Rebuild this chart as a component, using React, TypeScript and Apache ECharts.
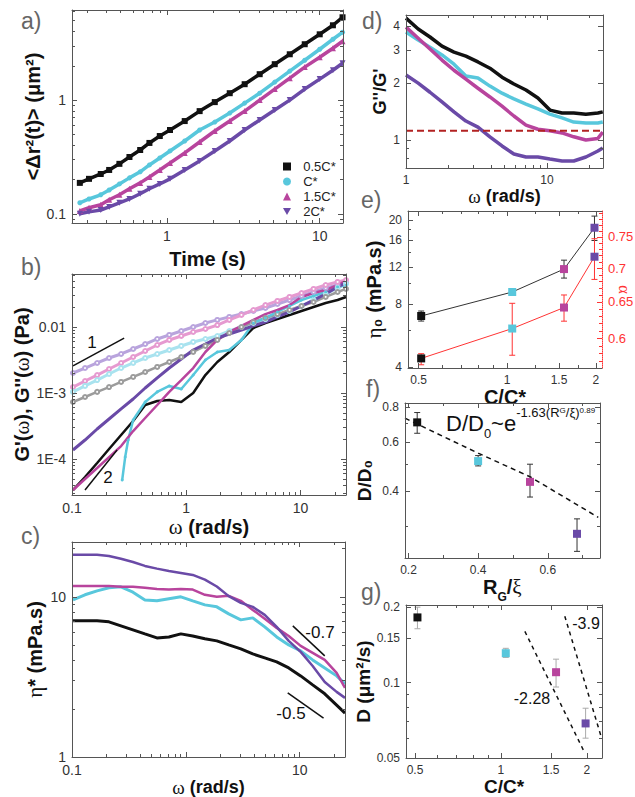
import React, { useEffect, useRef } from 'react';
import * as echarts from 'echarts';

const FONT = '"Liberation Sans", Arial, Helvetica, sans-serif';
const SERIF = '"Liberation Serif", "DejaVu Serif", serif';

const C_BLACK = '#111111';
const C_CYAN = '#58c7dc';
const C_MAG = '#b8449d';
const C_PUR = '#6a4aa7';
const C_PUR_L = '#b9a4dd';
const C_MAG_L = '#e69ad0';
const C_CYAN_L = '#a9e3ef';
const C_GREY_L = '#9c9c9c';
const C_RED = '#ff3333';

// ---------- panel a : MSD ----------
const aTime = [0.27, 0.31, 0.37, 0.42, 0.49, 0.57, 0.67, 0.77, 0.9, 1.05, 1.31, 1.64, 2.06, 2.58, 3.23, 4.05, 5.08, 6.37, 7.98, 10, 12.2, 14.1];
const aBlack = [0.187, 0.203, 0.224, 0.243, 0.275, 0.316, 0.364, 0.42, 0.483, 0.546, 0.654, 0.8, 0.96, 1.15, 1.38, 1.69, 2.07, 2.53, 3.1, 3.79, 4.55, 5.35];
const aCyan = [0.125, 0.135, 0.147, 0.162, 0.183, 0.207, 0.234, 0.269, 0.31, 0.357, 0.437, 0.546, 0.641, 0.769, 0.941, 1.15, 1.44, 1.8, 2.24, 2.8, 3.43, 3.95];
const aMagenta = [0.106, 0.113, 0.12, 0.133, 0.147, 0.166, 0.187, 0.211, 0.243, 0.28, 0.343, 0.428, 0.535, 0.654, 0.8, 1.0, 1.25, 1.56, 1.95, 2.38, 2.86, 3.29];
const aPurple = [0.1, 0.104, 0.108, 0.115, 0.125, 0.135, 0.15, 0.166, 0.183, 0.203, 0.243, 0.292, 0.357, 0.437, 0.546, 0.668, 0.817, 1.0, 1.25, 1.53, 1.83, 2.11];
const aNames = ['0.5C*', 'C*', '1.5C*', '2C*'];

// ---------- panel b : G', G'' ----------
const bOmega = [0.102, 0.13, 0.166, 0.211, 0.269, 0.343, 0.437, 0.557, 0.71, 0.904, 1.15, 1.47, 1.87, 2.38, 3.04, 3.87, 4.93, 6.28, 8.01, 10.2, 13.0, 16.6, 21.1, 25];
const bG2Purple = [2.01e-3, 2.39e-3, 2.85e-3, 3.39e-3, 3.9e-3, 4.64e-3, 5.52e-3, 6.58e-3, 7.57e-3, 8.7e-3, 0.01, 0.0115, 0.0128, 0.0142, 0.0157, 0.0175, 0.0194, 0.0223, 0.0256, 0.0295, 0.0339, 0.039, 0.0433, 0.0464];
const bG2Magenta = [1.23e-3, 1.52e-3, 1.87e-3, 2.31e-3, 2.85e-3, 3.51e-3, 4.33e-3, 5.34e-3, 6.36e-3, 7.31e-3, 8.4e-3, 9.33e-3, 0.0107, 0.0128, 0.0152, 0.0181, 0.0215, 0.0248, 0.0285, 0.0327, 0.0377, 0.0433, 0.0481, 0.0515];
const bG2Cyan = [1.04e-3, 1.28e-3, 1.57e-3, 1.94e-3, 2.39e-3, 2.85e-3, 3.39e-3, 3.9e-3, 4.48e-3, 5.16e-3, 5.93e-3, 6.58e-3, 7.31e-3, 8.7e-3, 0.01, 0.0115, 0.0132, 0.0152, 0.0175, 0.0208, 0.0256, 0.0316, 0.039, 0.0449];
const bG2Black = [7.3e-4, 8.7e-4, 1.04e-3, 1.23e-3, 1.47e-3, 1.75e-3, 2.08e-3, 2.48e-3, 2.95e-3, 3.51e-3, 4.18e-3, 5.16e-3, 6.36e-3, 8.11e-3, 0.01, 0.0119, 0.0137, 0.0157, 0.0181, 0.0208, 0.0239, 0.0285, 0.0339, 0.0377];
const bG1Purple = [1.37e-4, 1.94e-4, 2.85e-4, 4.04e-4, 5.73e-4, 8.11e-4, 1.19e-3, 1.69e-3, 2.39e-3, 3.28e-3, 4.48e-3, 5.52e-3, 6.81e-3, 7.83e-3, 9.01e-3, 0.0104, 0.0119, 0.0142, 0.0169, 0.0208, 0.0256, 0.0316, 0.0404, 0.0464];
const bG1Magenta = [3.39e-5, 4.98e-5, 7.31e-5, 1.07e-4, 1.57e-4, 2.65e-4, 4.18e-4, 6.58e-4, 1.04e-3, 1.57e-3, 2.39e-3, 4.18e-3, 6.36e-3, 8.4e-3, 0.0104, 0.0128, 0.0157, 0.0181, 0.0215, 0.0285, 0.0327, 0.0363, 0.0433, 0.0498];
const bG1Black = [3.39e-5, 5.33e-5, 8.69e-5, 1.42e-4, 2.31e-4, 3.77e-4, 6.58e-4, 7.57e-4, 7.83e-4, 7.3e-4, 1e-3, 1.87e-3, 2.95e-3, 4.18e-3, 6.36e-3, 9.66e-3, 0.0115, 0.0132, 0.0152, 0.0175, 0.0201, 0.0231, 0.0256, 0.0285];
const bOmegaCyan = [0.275, 0.292, 0.31, 0.343, 0.437, 0.557, 0.71, 0.904, 1.15, 1.47, 1.87, 2.38, 3.04, 3.87, 4.93, 6.28, 8.01, 10.2, 13.0, 16.6, 21.1, 25];
const bG1Cyan = [4.81e-5, 1.07e-4, 1.94e-4, 3.9e-4, 7.3e-4, 1.04e-3, 1.28e-3, 1.15e-3, 1.87e-3, 3.16e-3, 4.18e-3, 4.48e-3, 6.36e-3, 0.0115, 0.0137, 0.0169, 0.0208, 0.0256, 0.0295, 0.0339, 0.0404, 0.0433];
const bSlope1X = [0.102, 0.286];
const bSlope1Y = [2.57e-3, 6.8e-3];
const bSlope2X = [0.13, 0.248];
const bSlope2Y = [3.4e-5, 1.37e-4];

// ---------- panel c : eta* ----------
const cOmega = [0.102, 0.13, 0.166, 0.211, 0.269, 0.343, 0.437, 0.557, 0.71, 0.904, 1.15, 1.47, 1.87, 2.38, 3.04, 3.87, 4.93, 6.28, 8.01, 10.2, 13.0, 16.6, 21.1, 25];
const cPurple = [18.3, 18.3, 18.3, 18.0, 17.3, 16.5, 15.6, 15.0, 14.5, 14.1, 13.7, 12.8, 11.6, 10.1, 9.17, 8.66, 7.72, 6.49, 5.31, 4.53, 3.7, 2.94, 2.55, 2.34];
const cMagenta = [11.7, 11.7, 11.7, 11.7, 11.55, 11.55, 11.4, 11.2, 11.1, 11.2, 11.1, 10.3, 10.0, 10.15, 9.44, 8.29, 7.29, 6.4, 5.7, 4.94, 4.47, 4.04, 3.35, 2.7];
const cCyan = [9.57, 10.3, 10.9, 11.4, 11.55, 10.7, 9.57, 9.44, 9.72, 10.0, 9.44, 8.91, 8.66, 7.83, 7.18, 7.39, 6.49, 5.62, 5.01, 4.6, 4.04, 3.6, 3.21, 2.86];
const cBlack = [7.08, 7.08, 7.08, 6.98, 6.59, 6.22, 5.87, 5.54, 5.62, 5.87, 5.7, 5.47, 5.31, 5.01, 4.73, 4.4, 4.16, 3.93, 3.6, 3.21, 2.82, 2.48, 2.11, 1.88];
const cSlope07X = [8.7, 16.6];
const cSlope07Y = [6.59, 4.28];
const cSlope05X = [7.85, 16.2];
const cSlope05Y = [2.51, 1.75];

// ---------- panel d : G''/G' ----------
const dOmega = [1, 1.22, 1.48, 1.8, 2.19, 2.66, 3.24, 3.94, 4.8, 5.83, 7.1, 8.63, 10.5, 12.8, 15.5, 18.9, 23.0, 24.9];
const dBlack = [4.42, 3.87, 3.51, 3.14, 2.92, 2.78, 2.59, 2.4, 2.15, 1.98, 1.84, 1.67, 1.44, 1.39, 1.39, 1.37, 1.39, 1.41];
const dCyan = [3.73, 3.38, 3.1, 2.82, 2.52, 2.18, 2.13, 1.93, 1.77, 1.65, 1.55, 1.46, 1.37, 1.31, 1.245, 1.23, 1.23, 1.245];
const dMagenta = [3.96, 3.46, 3.03, 2.65, 2.34, 2.1, 1.88, 1.69, 1.51, 1.34, 1.2, 1.14, 1.12, 1.09, 1.04, 1.0, 1.02, 1.1];
const dPurple = [2.21, 2.0, 1.79, 1.59, 1.41, 1.26, 1.17, 1.04, 0.93, 0.843, 0.813, 0.813, 0.793, 0.774, 0.774, 0.813, 0.875, 0.908];
const dRefX = [1, 25];
const dRefY = [1.12, 1.12];

// ---------- panels e, f, g ----------
const conc = [0.51, 1.04, 1.56, 1.98];
const pointColors = [C_BLACK, C_CYAN, C_MAG, C_PUR];
const eEta0 = [7.0, 9.1, 11.7, 18.4];
const eEta0Lo = [6.62, 8.9, 10.6, 16.0];
const eEta0Hi = [7.39, 9.3, 12.9, 20.9];
const eAlpha = [0.574, 0.613, 0.642, 0.718];
const eAlphaLo = [0.566, 0.578, 0.623, 0.683];
const eAlphaHi = [0.58, 0.648, 0.66, 0.747];

const fRgXi = [0.225, 0.4, 0.549, 0.684];
const fD = [0.707, 0.513, 0.432, 0.281];
const fDLo = [0.646, 0.493, 0.381, 0.243];
const fDHi = [0.767, 0.537, 0.5, 0.318];
const fFitX = [0.19, 0.4, 0.55, 0.745];
const fFitY = [0.732, 0.548, 0.45, 0.322];

const gD = [0.182, 0.131, 0.11, 0.0687];
const gDLo = [0.164, 0.126, 0.096, 0.06];
const gDHi = [0.2, 0.137, 0.124, 0.079];
const g228X = [1.213, 1.967];
const g228Y = [0.16, 0.0524];
const g39X = [1.674, 2.255];
const g39Y = [0.184, 0.0598];

// ---------- helpers ----------
function zip(xs: number[], ys: number[]) {
  return xs.map((x, i) => [x, ys[i]]);
}

function logMinors(lo: number, hi: number): number[] {
  const out: number[] = [];
  for (let e = -6; e <= 3; e++) {
    for (let k = 2; k <= 9; k++) {
      const v = parseFloat((k * Math.pow(10, e)).toPrecision(6));
      if (v >= lo && v <= hi) out.push(v);
    }
  }
  return out;
}

type Side = {
  type: 'log' | 'value';
  min: number;
  max: number;
  majors: number[];
  minors: number[];
  labels?: number[];
  fmt?: (v: number) => string;
  fontSize?: number;
  color?: string;
  lineColor?: string;
  lineType?: any;
  name?: string;
  nameGap?: number;
  nameTextStyle?: any;
  nameRotate?: number;
  noMove?: boolean;
};

function pushAxis(list: any[], grid: number, position: string, s: Side, primary: boolean): number {
  const base: any = {
    type: s.type,
    min: s.min,
    max: s.max,
    gridIndex: grid,
    position,
    splitLine: { show: false },
    z: 5,
  };
  if (s.type === 'log') base.logBase = 10;
  const lc = s.lineColor || '#555';
  const idx = list.length;
  const main: any = {
    ...base,
    axisLine: { show: true, onZero: false, lineStyle: { color: lc, width: 1, type: s.lineType || 'solid' } },
    axisTick: { show: true, inside: true, length: 5, customValues: s.majors, lineStyle: { color: lc, width: 1 } },
    axisLabel: primary
      ? {
          show: true,
          customValues: s.labels || s.majors,
          formatter: s.fmt || ((v: number) => String(v)),
          fontSize: s.fontSize || 14,
          color: s.color || '#333',
          fontFamily: FONT,
          margin: 6,
        }
      : { show: false },
  };
  if (primary && s.name) {
    main.name = s.name;
    main.nameLocation = 'middle';
    main.nameGap = s.nameGap;
    main.nameTextStyle = s.nameTextStyle;
    if (s.nameRotate !== undefined) main.nameRotate = s.nameRotate;
    if (s.noMove) main.nameMoveOverlap = false;
  }
  list.push(main);
  if (s.minors.length) {
    list.push({
      ...base,
      axisLine: { show: false, onZero: false },
      axisTick: { show: true, inside: true, length: 3, customValues: s.minors, lineStyle: { color: lc, width: 1 } },
      axisLabel: { show: false },
    });
  }
  return idx;
}

function titleStyle(size: number, color = '#111') {
  return {
    fontSize: size,
    fontWeight: 'bold',
    fontFamily: FONT,
    color,
    rich: {
      w: { fontFamily: SERIF, fontWeight: 'normal', fontSize: size + 1, color },
      m: { fontFamily: FONT, fontWeight: 'bold', fontSize: size, lineHeight: size, verticalAlign: 'top', color },
      sub: { fontFamily: FONT, fontWeight: 'bold', fontSize: size * 0.6, lineHeight: size * 0.6, verticalAlign: 'bottom', color },
      xi: { fontFamily: SERIF, fontWeight: 'normal', fontSize: size + 1, lineHeight: size, verticalAlign: 'top', color },
      sp: { fontSize: 1, lineHeight: size + 6 },
    },
  };
}

function errBars(xi: number, yi: number, xs: number[], lo: number[], hi: number[], color: string) {
  return {
    type: 'custom',
    xAxisIndex: xi,
    yAxisIndex: yi,
    z: 2,
    silent: true,
    data: xs.map((x, i) => [x, lo[i], hi[i]]),
    encode: { x: 0, y: [1, 2] },
    renderItem: (_p: any, api: any) => {
      const x = api.value(0);
      const a = api.coord([x, api.value(1)]);
      const b = api.coord([x, api.value(2)]);
      const st = { stroke: color, lineWidth: 1 };
      const cap = 3;
      return {
        type: 'group',
        children: [
          { type: 'line', shape: { x1: a[0], y1: a[1], x2: b[0], y2: b[1] }, style: st },
          { type: 'line', shape: { x1: a[0] - cap, y1: a[1], x2: a[0] + cap, y2: a[1] }, style: st },
          { type: 'line', shape: { x1: b[0] - cap, y1: b[1], x2: b[0] + cap, y2: b[1] }, style: st },
        ],
      };
    },
  };
}

function curve(xi: number, yi: number, xs: number[], ys: number[], color: string, width: number, extra: any = {}) {
  return {
    type: 'line',
    xAxisIndex: xi,
    yAxisIndex: yi,
    data: zip(xs, ys),
    symbol: 'none',
    showSymbol: false,
    lineStyle: { color, width },
    itemStyle: { color },
    z: 3,
    silent: true,
    ...extra,
  };
}

function squares(xi: number, yi: number, xs: number[], ys: number[], lineColor: string | null) {
  return {
    type: 'line',
    xAxisIndex: xi,
    yAxisIndex: yi,
    data: xs.map((x, i) => ({ value: [x, ys[i]], itemStyle: { color: pointColors[i] } })),
    symbol: 'rect',
    symbolSize: 8,
    showSymbol: true,
    lineStyle: lineColor ? { color: lineColor, width: 1 } : { width: 0, opacity: 0 },
    z: 4,
    silent: true,
  };
}

function buildOption() {
  const xAxes: any[] = [];
  const yAxes: any[] = [];
  const grids = [
    { left: 72, top: 10, width: 271, height: 213 },
    { left: 72, top: 274, width: 274, height: 221 },
    { left: 72, top: 542, width: 273, height: 215 },
    { left: 406, top: 15, width: 197, height: 153 },
    { left: 408, top: 211, width: 194, height: 157 },
    { left: 405, top: 403, width: 195, height: 155 },
    { left: 406, top: 605, width: 196, height: 153 },
  ].map((g) => ({ ...g, containLabel: false, outerBoundsMode: 'none' }));

  const box = (grid: number, xs: Side, ys: Side, rightMirror = true) => {
    const xi = pushAxis(xAxes, grid, 'bottom', xs, true);
    pushAxis(xAxes, grid, 'top', { ...xs, name: undefined }, false);
    const yi = pushAxis(yAxes, grid, 'left', ys, true);
    if (rightMirror) pushAxis(yAxes, grid, 'right', { ...ys, name: undefined }, false);
    return [xi, yi];
  };

  const omegaName = '{w|ω} (rad/s)';

  // a
  const [ax, ay] = box(
    0,
    { type: 'log', min: 0.24, max: 14.2, majors: [1, 10], minors: logMinors(0.25, 14), name: 'Time (s)', nameGap: 26, nameTextStyle: titleStyle(20) },
    { type: 'log', min: 0.083, max: 6.2, majors: [0.1, 1], minors: logMinors(0.085, 6.1), name: '<Δr²(t)> (μm²)', nameGap: 26, nameTextStyle: titleStyle(20) }
  );
  // b
  const [bx, by] = box(
    1,
    { type: 'log', min: 0.1, max: 25, majors: [0.1, 1, 10], minors: logMinors(0.11, 24), name: omegaName, nameGap: 21, nameTextStyle: titleStyle(20) },
    {
      type: 'log', min: 2.85e-5, max: 0.0635, majors: [1e-4, 1e-3, 1e-2], minors: logMinors(2.9e-5, 0.063),
      fmt: (v: number) => (v >= 0.005 ? '0.01' : v >= 0.0005 ? '1E-3' : '1E-4'),
      name: "G'({w|ω}), G''({w|ω}) (Pa)", nameGap: 25, nameTextStyle: titleStyle(20),
    }
  );
  // c
  const [cx, cy] = box(
    2,
    { type: 'log', min: 0.1, max: 25, majors: [0.1, 1, 10], labels: [0.1, 10], minors: logMinors(0.11, 24), name: omegaName, nameGap: 19, nameTextStyle: titleStyle(18) },
    { type: 'log', min: 1, max: 22, majors: [1, 10], minors: logMinors(1.1, 21), name: '{w|η}* (mPa.s)', nameGap: 27, nameTextStyle: titleStyle(20) }
  );
  // d
  const [dx, dy] = box(
    3,
    { type: 'log', min: 1, max: 25, majors: [1, 10], minors: logMinors(1.1, 24), fontSize: 12, name: omegaName, nameGap: 16, nameTextStyle: titleStyle(18) },
    { type: 'log', min: 0.711, max: 4.59, majors: [1, 2, 3, 4], minors: [0.8, 0.9], fontSize: 12, name: "G''/G'", nameGap: 15, nameTextStyle: titleStyle(18) }
  );
  // e
  const [ex, ey] = box(
    4,
    { type: 'log', min: 0.46, max: 2.1, majors: [0.5, 1, 1.5, 2], minors: [0.6, 0.7, 0.8, 0.9, 1.25, 1.75], fontSize: 12, name: 'C/C*', nameGap: 14, nameTextStyle: titleStyle(20) },
    { type: 'log', min: 3.96, max: 22.1, majors: [4, 8, 12, 16, 20], minors: [6, 10, 14, 18], fontSize: 12, name: '{w|η}₀ (mPa.s)', nameGap: 17, nameTextStyle: titleStyle(20) },
    false
  );
  const eyR = pushAxis(yAxes, 4, 'right', {
    type: 'log', min: 0.562, max: 0.794, majors: [0.6, 0.65, 0.7, 0.75],
    minors: [0.57, 0.58, 0.59, 0.61, 0.62, 0.63, 0.64, 0.66, 0.67, 0.68, 0.69, 0.71, 0.72, 0.73, 0.74, 0.76, 0.77, 0.78, 0.79],
    fontSize: 13, color: C_RED, lineColor: C_RED, lineType: 'dotted',
    name: 'α', nameGap: 14, nameRotate: -90, noMove: true, nameTextStyle: { fontSize: 17, color: C_RED, fontFamily: SERIF },
  }, true);
  // f
  const [fx, fy] = box(
    5,
    { type: 'value', min: 0.19, max: 0.75, majors: [0.2, 0.4, 0.6], minors: [0.3, 0.5, 0.7], fontSize: 12, name: '{m|R}{sub|G}{m|/}{xi|ξ}{sp| }', nameGap: 17, nameTextStyle: titleStyle(20) },
    { type: 'log', min: 0.23, max: 0.83, majors: [0.4, 0.6, 0.8], minors: [0.3, 0.5, 0.7], fontSize: 12, name: 'D/D₀', nameGap: 31, nameTextStyle: titleStyle(19) }
  );
  // g
  const [gx, gy] = box(
    6,
    { type: 'log', min: 0.465, max: 2.26, majors: [0.5, 1, 1.5, 2], minors: [0.6, 0.7, 0.8, 0.9], fontSize: 12, name: 'C/C*', nameGap: 15, nameTextStyle: titleStyle(19) },
    { type: 'log', min: 0.05, max: 0.204, majors: [0.05, 0.1, 0.15, 0.2], minors: [0.06, 0.07, 0.08, 0.09], fontSize: 12, name: 'D (μm²/s)', nameGap: 32, nameTextStyle: titleStyle(19) }
  );

  const series: any[] = [];

  // a
  const aData = [aBlack, aCyan, aMagenta, aPurple];
  const aCols = [C_BLACK, C_CYAN, C_MAG, C_PUR];
  const aSyms = ['rect', 'circle', 'triangle', 'triangle'];
  const aRot = [0, 0, 0, 180];
  aData.forEach((ys, i) => {
    series.push({
      type: 'line',
      name: aNames[i],
      xAxisIndex: ax,
      yAxisIndex: ay,
      data: zip(aTime, ys),
      symbol: aSyms[i],
      symbolSize: i === 1 ? 5 : 6,
      symbolRotate: aRot[i],
      showSymbol: true,
      itemStyle: { color: aCols[i] },
      lineStyle: { color: aCols[i], width: 3.5 },
      z: 3,
      silent: true,
    });
  });

  // b
  const ring = { symbol: 'emptyCircle', symbolSize: 4, showSymbol: true };
  series.push(curve(bx, by, bOmega, bG2Purple, C_PUR_L, 3, ring));
  series.push(curve(bx, by, bOmega, bG2Magenta, C_MAG_L, 3, ring));
  series.push(curve(bx, by, bOmega, bG2Cyan, C_CYAN_L, 3, ring));
  series.push(curve(bx, by, bOmega, bG2Black, C_GREY_L, 2.5, ring));
  series.push(curve(bx, by, bOmega, bG1Black, C_BLACK, 2.5));
  series.push(curve(bx, by, bOmegaCyan, bG1Cyan, C_CYAN, 2.5, { symbol: 'circle', symbolSize: 3, showSymbol: true }));
  series.push(curve(bx, by, bOmega, bG1Magenta, C_MAG, 2.5));
  series.push(curve(bx, by, bOmega, bG1Purple, C_PUR, 3));
  series.push(curve(bx, by, bSlope1X, bSlope1Y, '#111', 1.5));
  series.push(curve(bx, by, bSlope2X, bSlope2Y, '#111', 1.5));

  // c
  series.push(curve(cx, cy, cOmega, cBlack, C_BLACK, 3));
  series.push(curve(cx, cy, cOmega, cCyan, C_CYAN, 3));
  series.push(curve(cx, cy, cOmega, cMagenta, C_MAG, 2.5));
  series.push(curve(cx, cy, cOmega, cPurple, C_PUR, 2.5));
  series.push(curve(cx, cy, cSlope07X, cSlope07Y, '#111', 1.5));
  series.push(curve(cx, cy, cSlope05X, cSlope05Y, '#111', 1.5));

  // d
  series.push(curve(dx, dy, dOmega, dBlack, C_BLACK, 3.5));
  series.push(curve(dx, dy, dOmega, dCyan, C_CYAN, 3.5));
  series.push(curve(dx, dy, dOmega, dMagenta, C_MAG, 3.5));
  series.push(curve(dx, dy, dOmega, dPurple, C_PUR, 3.5));
  series.push(curve(dx, dy, dRefX, dRefY, '#b22222', 2, { lineStyle: { color: '#b22222', width: 2, type: [7, 4] } }));

  // e
  series.push(errBars(ex, ey, conc, eEta0Lo, eEta0Hi, '#333'));
  series.push(errBars(ex, eyR, conc, eAlphaLo, eAlphaHi, C_RED));
  series.push(squares(ex, ey, conc, eEta0, '#333'));
  series.push(squares(ex, eyR, conc, eAlpha, C_RED));

  // f
  series.push(curve(fx, fy, fFitX, fFitY, '#111', 1.5, { lineStyle: { color: '#111', width: 1.5, type: [5, 4] } }));
  series.push(errBars(fx, fy, fRgXi, fDLo, fDHi, '#333'));
  series.push(squares(fx, fy, fRgXi, fD, null));

  // g
  series.push(curve(gx, gy, g228X, g228Y, '#111', 1.5, { lineStyle: { color: '#111', width: 1.5, type: [4, 4] } }));
  series.push(curve(gx, gy, g39X, g39Y, '#111', 1.5, { lineStyle: { color: '#111', width: 1.5, type: [4, 4] } }));
  series.push(errBars(gx, gy, conc, gDLo, gDHi, '#aaa'));
  series.push(squares(gx, gy, conc, gD, null));

  const letter = (t: string, x: number, y: number) => ({
    type: 'text', x, y, silent: true,
    style: { text: t, fontSize: 23, fill: '#666', fontFamily: FONT },
  });
  const note = (t: string, x: number, y: number, size = 17) => ({
    type: 'text', x, y, silent: true,
    style: { text: t, fontSize: size, fill: '#111', fontFamily: FONT, align: 'center', verticalAlign: 'middle' },
  });

  const graphic = [
    letter('a)', 21, 9),
    letter('b)', 21, 255),
    letter('c)', 21, 524),
    letter('d)', 362, 9),
    letter('e)', 361, 188),
    letter('f)', 366, 377),
    letter('g)', 361, 580),
    note('1', 92, 342),
    note('2', 108, 477),
    note('-0.7', 320, 632),
    note('-0.5', 291, 713),
    note('-2.28', 532, 698, 16),
    note('-3.9', 586, 623, 16),
    {
      type: 'text', x: 446, y: 406, silent: true,
      style: {
        text: '{m|D/D}{s|0}{m|~e}{p|-1.63(R}{ps|G}{p|/ξ)}{pp|0.89}{sp| }',
        fontFamily: FONT,
        fill: '#111',
        rich: {
          m: { fontSize: 22, lineHeight: 22, verticalAlign: 'middle', fontFamily: FONT, fill: '#111' },
          s: { fontSize: 13, lineHeight: 12, verticalAlign: 'bottom', fontFamily: FONT, fill: '#111' },
          p: { fontSize: 13, lineHeight: 18, verticalAlign: 'top', fontFamily: FONT, fill: '#111' },
          ps: { fontSize: 8, lineHeight: 27, verticalAlign: 'top', fontFamily: FONT, fill: '#111' },
          pp: { fontSize: 8, lineHeight: 6, verticalAlign: 'top', fontFamily: FONT, fill: '#111' },
          sp: { fontSize: 1, lineHeight: 34 },
        },
      },
    },
  ];

  return {
    animation: false,
    backgroundColor: '#ffffff',
    textStyle: { fontFamily: FONT },
    grid: grids,
    xAxis: xAxes,
    yAxis: yAxes,
    legend: {
      show: true,
      orient: 'vertical',
      left: 278,
      top: 155,
      itemGap: 2,
      itemWidth: 8,
      itemHeight: 8,
      selectedMode: false,
      formatter: (n: string) => '  ' + n,
      textStyle: { fontSize: 13, fontFamily: FONT, color: '#222' },
      data: [
        { name: '0.5C*', icon: 'rect' },
        { name: 'C*', icon: 'circle' },
        { name: '1.5C*', icon: 'triangle' },
        { name: '2C*', icon: 'path://M0,0L10,0L5,9Z' },
      ],
    },
    graphic,
    series,
  };
}

export default function App() {
  const ref = useRef<HTMLDivElement | null>(null);
  useEffect(() => {
    if (!ref.current) return;
    const chart = echarts.init(ref.current, undefined, { renderer: 'svg' });
    chart.setOption(buildOption() as any);
    return () => chart.dispose();
  }, []);
  return (
    <div
      ref={ref}
      style={{ position: 'fixed', left: 0, top: 0, width: 635, height: 797, background: '#fff' }}
    />
  );
}
